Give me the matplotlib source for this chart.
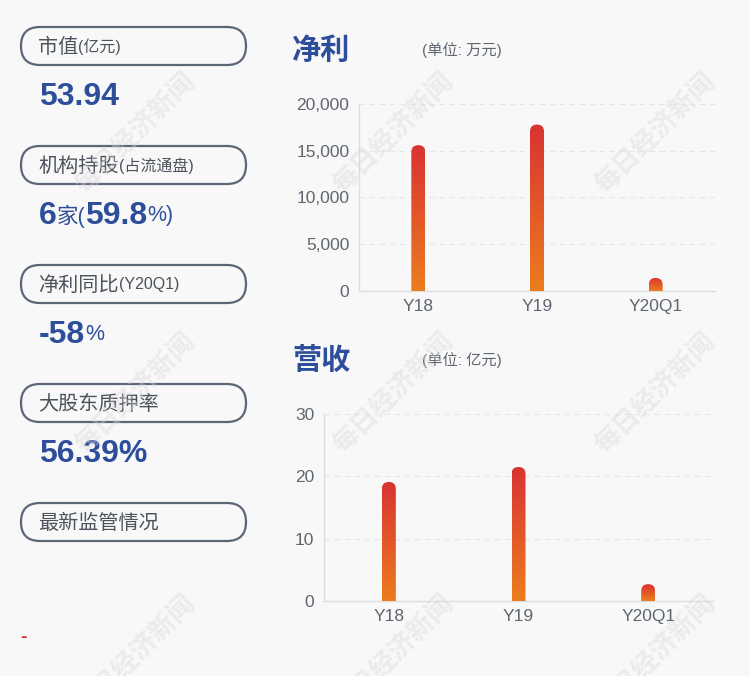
import numpy as np
import matplotlib
matplotlib.use("Agg")
import matplotlib.pyplot as plt
from matplotlib.patches import FancyBboxPatch
from matplotlib.colors import LinearSegmentedColormap
from matplotlib.ticker import FuncFormatter

plt.rcParams['font.family'] = ['Liberation Sans', 'Noto Sans CJK SC', 'DejaVu Sans']

# data
periods = ["Y18", "Y19", "Y20Q1"]
profit = [15600, 17800, 1400]      # 万元
revenue = [19.1, 21.5, 2.7]        # 亿元
profit_ticks = [0, 5000, 10000, 15000, 20000]
revenue_ticks = [0, 10, 20, 30]

box_titles = ["市值", "机构持股", "净利同比", "大股东质押率", "最新监管情况"]
box_notes = ["(亿元)", "(占流通盘)", "(Y20Q1)", "", ""]
box_values = [
    [("53.94", True)],
    [("6", True), ("家(", False), ("59.8", True), ("%)", False)],
    [("-58", True), ("%", False)],
    [("56.39%", True)],
    [],
]

W, H = 750, 676
BG = "#f8f8f8"
BLUE = "#2e4d9b"
GRAY = "#5f6670"
grad = LinearSegmentedColormap.from_list("bar", ["#ec7d1e", "#d93233"])

fig = plt.figure(figsize=(W / 100, H / 100), dpi=100, facecolor=BG)
renderer = fig.canvas.get_renderer()


def add_chart(box, values, ticks, fmt, bar_px=14):
    left, top, right, bottom = box
    ax = fig.add_axes([left / W, 1 - bottom / H, (right - left) / W, (bottom - top) / H])
    ax.set_facecolor("none")
    ymax = ticks[-1]
    bars = ax.bar(periods, values, width=bar_px * len(periods) / (right - left), color="none")
    ax.set_xlim(-0.5, len(periods) - 0.5)
    ax.set_ylim(0, ymax)
    aspect = (ymax / (bottom - top)) / (len(periods) / (right - left))
    for rect in bars:
        x0, w, h = rect.get_x(), rect.get_width(), rect.get_height()
        r = w / 2
        shape = FancyBboxPatch((x0, -2 * r * aspect), w, h + 2 * r * aspect,
                               boxstyle="round,pad=0,rounding_size=%f" % r,
                               mutation_aspect=aspect, fc="none", ec="none")
        ax.add_patch(shape)
        im = ax.imshow(np.linspace(0, 1, 256).reshape(-1, 1), extent=[x0, x0 + w, 0, h],
                       origin="lower", cmap=grad, aspect="auto", zorder=3)
        im.set_clip_path(shape)
    ax.set_xlim(-0.5, len(periods) - 0.5)
    ax.set_ylim(0, ymax)
    ax.set_yticks(ticks)
    ax.yaxis.set_major_formatter(FuncFormatter(fmt))
    ax.grid(axis="y", color="#e6e6e6", linestyle=(0, (5, 4)), linewidth=0.8)
    ax.set_axisbelow(True)
    for s in ["top", "right"]:
        ax.spines[s].set_visible(False)
    for s in ["left", "bottom"]:
        ax.spines[s].set_color("#dedede")
        ax.spines[s].set_linewidth(1)
    ax.tick_params(length=0, labelsize=12.5, labelcolor=GRAY)
    ax.tick_params(axis="y", pad=7)
    ax.tick_params(axis="x", pad=6)
    return ax


add_chart((359, 104, 715, 291), profit, profit_ticks, lambda v, p: f"{int(v):,}")
add_chart((324, 414, 713, 601), revenue, revenue_ticks, lambda v, p: f"{int(v)}")

# overlay in pixel coordinates
ov = fig.add_axes([0, 0, 1, 1])
ov.set_xlim(0, W)
ov.set_ylim(H, 0)
ov.axis("off")
ov.set_facecolor("none")


def text_run(x, y, parts):
    for s, size, bold, color in parts:
        t = ov.text(x, y, s, fontsize=size, fontweight="bold" if bold else "normal",
                    color=color, ha="left", va="center")
        x += t.get_window_extent(renderer).width


# chart titles
ov.text(292, 51, "净利", fontsize=21, fontweight="bold", color=BLUE, va="center")
ov.text(422, 50, "(单位: 万元)", fontsize=11, color=GRAY, va="center")
ov.text(292, 361, "营收", fontsize=21, fontweight="bold", color=BLUE, va="center")
ov.text(422, 360, "(单位: 亿元)", fontsize=11, color=GRAY, va="center")

# left info boxes
for i, (title, note, vals) in enumerate(zip(box_titles, box_notes, box_values)):
    top = 27 + i * 119
    ov.add_patch(FancyBboxPatch((21, top), 225, 38, boxstyle="round,pad=0,rounding_size=19",
                                fc="none", ec="#5b6677", lw=1.6))
    text_run(38, top + 20, [(title, 14.5, False, "#4d535d"), (note, 11.5, False, "#4d535d")])
    if vals:
        text_run(39, top + 70, [(s, 23 if b else 15.5, b, BLUE) for s, b in vals])

ov.text(20, 637, "-", fontsize=14, fontweight="bold", color="#e03030", va="center")

# watermarks
for wx in [135, 393, 655]:
    for wy in [133, 393, 655]:
        ov.text(wx, wy, "每日经济新闻", fontsize=19, fontweight="bold", rotation=45,
                color="#d8d8d8", alpha=0.4, ha="center", va="center", zorder=10)

fig.savefig("out.png", dpi=100, facecolor=BG)
